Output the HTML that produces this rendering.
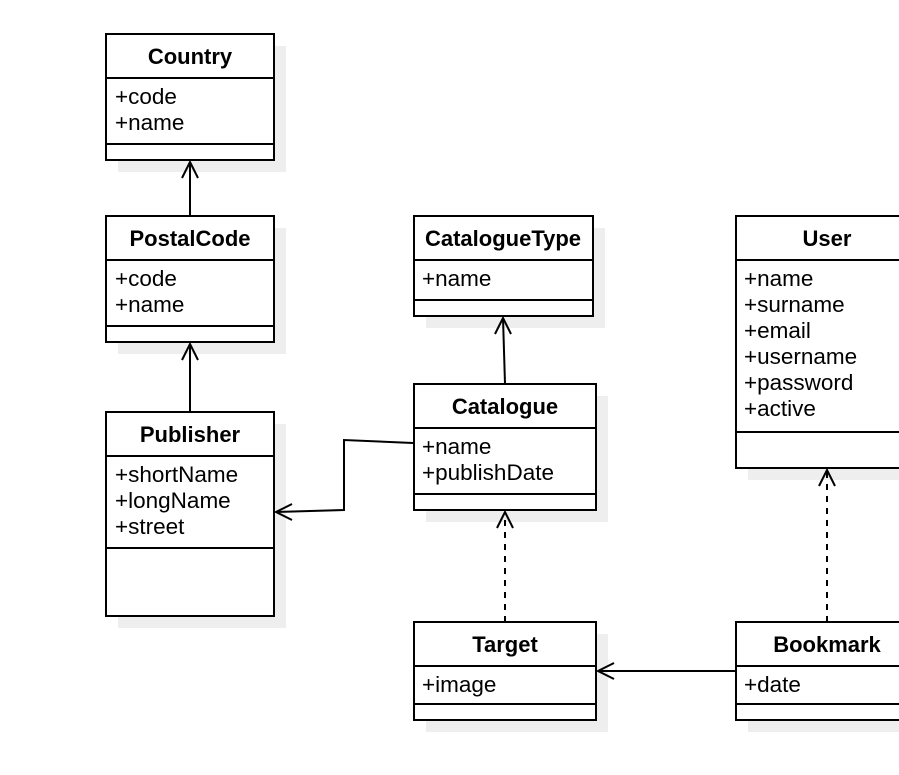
<!DOCTYPE html>
<html><head><meta charset="utf-8"><style>
body{margin:0;background:#fff}
svg{display:block}
text{font-family:"Liberation Sans",Arial,sans-serif;font-size:22.5px;fill:#000}
.h{font-weight:bold;text-anchor:middle;font-size:22px}
</style></head><body>
<svg width="899" height="775" viewBox="0 0 899 775">
<g fill="#eee">
<rect x="118" y="46" width="168" height="126"/>
<rect x="118" y="228" width="168" height="126"/>
<rect x="118" y="424" width="168" height="204"/>
<rect x="426" y="228" width="179" height="100"/>
<rect x="426" y="396" width="182" height="126"/>
<rect x="748" y="228" width="160" height="252"/>
<rect x="426" y="634" width="182" height="98"/>
<rect x="748" y="634" width="160" height="98"/>
</g>
<g fill="#fff" stroke="#000" stroke-width="2">
<rect x="106" y="34" width="168" height="126"/><line x1="106" y1="78" x2="274" y2="78"/><line x1="106" y1="144" x2="274" y2="144"/>
<rect x="106" y="216" width="168" height="126"/><line x1="106" y1="260" x2="274" y2="260"/><line x1="106" y1="326" x2="274" y2="326"/>
<rect x="106" y="412" width="168" height="204"/><line x1="106" y1="456" x2="274" y2="456"/><line x1="106" y1="548" x2="274" y2="548"/>
<rect x="414" y="216" width="179" height="100"/><line x1="414" y1="260" x2="593" y2="260"/><line x1="414" y1="300" x2="593" y2="300"/>
<rect x="414" y="384" width="182" height="126"/><line x1="414" y1="428" x2="596" y2="428"/><line x1="414" y1="494" x2="596" y2="494"/>
<rect x="736" y="216" width="170" height="252"/><line x1="736" y1="260" x2="906" y2="260"/><line x1="736" y1="432" x2="906" y2="432"/>
<rect x="414" y="622" width="182" height="98"/><line x1="414" y1="666" x2="596" y2="666"/><line x1="414" y1="704" x2="596" y2="704"/>
<rect x="736" y="622" width="170" height="98"/><line x1="736" y1="666" x2="906" y2="666"/><line x1="736" y1="704" x2="906" y2="704"/>
</g>
<g fill="none" stroke="#000" stroke-width="2">
<line x1="190" y1="216" x2="190" y2="162"/><polyline points="182,178 190,162 198,178"/>
<line x1="190" y1="412" x2="190" y2="344"/><polyline points="182,360 190,344 198,360"/>
<line x1="505" y1="384" x2="503" y2="318"/><polyline points="495,334 503,318 511,334"/>
<polyline points="413,443 344,440 344,510 276,512"/><polyline points="292,504 276,512 292,520"/>
<line x1="505" y1="622" x2="505" y2="512" stroke-dasharray="6,6"/><polyline points="497,528 505,512 513,528"/>
<line x1="827" y1="622" x2="827" y2="470" stroke-dasharray="6,6"/><polyline points="819,486 827,470 835,486"/>
<line x1="736" y1="671" x2="598" y2="671"/><polyline points="614,663 598,671 614,679"/>
</g>
<text class="h" x="190" y="64">Country</text>
<text x="115" y="104">+code</text><text x="115" y="130">+name</text>
<text class="h" x="190" y="246">PostalCode</text>
<text x="115" y="286">+code</text><text x="115" y="312">+name</text>
<text class="h" x="190" y="442">Publisher</text>
<text x="115" y="482">+shortName</text><text x="115" y="508">+longName</text><text x="115" y="534">+street</text>
<text class="h" x="503" y="246">CatalogueType</text>
<text x="422" y="286">+name</text>
<text class="h" x="505" y="414">Catalogue</text>
<text x="422" y="454">+name</text><text x="422" y="480">+publishDate</text>
<text class="h" x="827" y="246">User</text>
<text x="744" y="286">+name</text><text x="744" y="312">+surname</text><text x="744" y="338">+email</text><text x="744" y="364">+username</text><text x="744" y="390">+password</text><text x="744" y="416">+active</text>
<text class="h" x="505" y="652">Target</text>
<text x="422" y="692">+image</text>
<text class="h" x="827" y="652">Bookmark</text>
<text x="744" y="692">+date</text>
</svg>
</body></html>
